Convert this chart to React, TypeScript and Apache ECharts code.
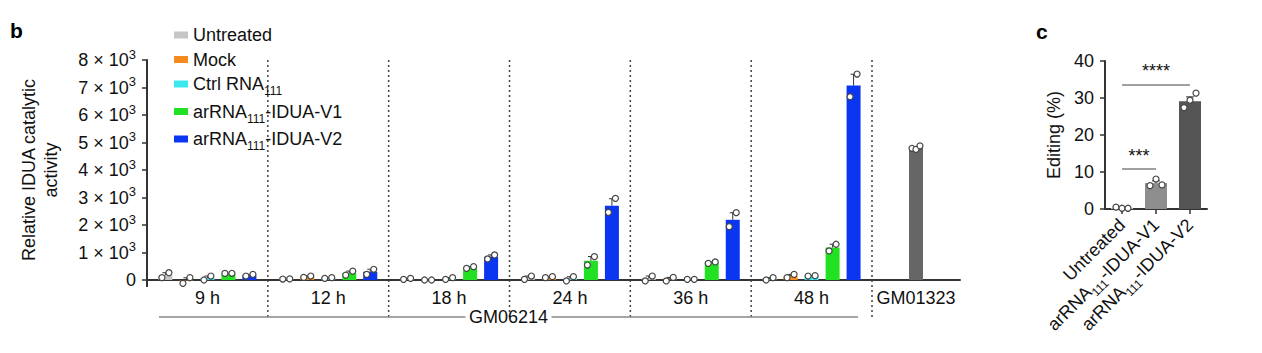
import React, { useEffect, useRef } from 'react';
import * as echarts from 'echarts';

// ---------- data (panel b) ----------
const TIMES = ['9 h', '12 h', '18 h', '24 h', '36 h', '48 h'];
const CONDITIONS = ['Untreated', 'Mock', 'Ctrl RNA111', 'arRNA111-IDUA-V1', 'arRNA111-IDUA-V2'];
const COLORS = ['#c6c6c6', '#f58a1f', '#3ce8f0', '#22e122', '#0a36f2'];
const Y_TICKS = [0, 1000, 2000, 3000, 4000, 5000, 6000, 7000, 8000];

// bar means: rows = conditions, columns = time points
const MEANS = [
  [175, 38, 42, 85, 55, 42],
  [-18, 120, 0, 102, 30, 145],
  [72, 72, 55, 42, 25, 150],
  [242, 252, 455, 700, 630, 1180],
  [175, 300, 840, 2700, 2190, 7070],
];
const SEMS = [
  [90, 3, 18, 60, 90, 42],
  [100, 25, 0, 18, 65, 60],
  [72, 12, 30, 78, 0, 6],
  [3, 72, 30, 152, 25, 122],
  [30, 92, 73, 255, 255, 412],
];
const REPLICATES = [
  [[84, 265], [35, 40], [25, 60], [25, 145], [-35, 145], [0, 85]],
  [[-120, 84], [95, 145], [0, 0], [85, 120], [-35, 95], [85, 205]],
  [[0, 145], [60, 85], [25, 85], [-35, 120], [25, 25], [145, 157]],
  [[240, 245], [180, 325], [424, 485], [545, 850], [605, 655], [1055, 1300]],
  [[145, 205], [205, 390], [764, 910], [2460, 2970], [1940, 2450], [6665, 7490]],
];
const GROUP_LABEL = 'GM06214';
const GM_LABEL = 'GM01323';
const GM_MEAN = 4800;
const GM_SEM = 40;
const GM_REPS = [4790, 4750, 4880];

// ---------- data (panel c) ----------
const EDIT_CATS = ['Untreated', 'arRNA111-IDUA-V1', 'arRNA111-IDUA-V2'];
const EDIT_MEANS = [0.3, 7.0, 29.1];
const EDIT_SEMS = [0.1, 0.6, 1.2];
const EDIT_REPS = [[0.5, 0.2, 0.2], [6.3, 8.1, 6.5], [27.4, 29.4, 31.3]];
const EDIT_COLORS = ['#c8c8c8', '#8e8e8e', '#555555'];
const SIG = [
  { from: 0, to: 1, y: 10.8, label: '***' },
  { from: 0, to: 2, y: 33.7, label: '****' },
];

// ---------- styles ----------
const FONT = '"Liberation Sans", Arial, Helvetica, sans-serif';
const TXT = '#111111';
const AX = '#333333';
const BAR_W = 14;
const BAR_STEP = 21;
const REP_JIT = 3.5;
const EDIT_JIT = [-6, 0, 6];
const GM_JIT = [-4, 0, 4];

const subFmt = (s: string) => s.replace('RNA111', 'RNA{sub|111}');
const subRich = {
  sub: { fontSize: 12, height: 6, lineHeight: 6, verticalAlign: 'bottom', fontFamily: FONT, color: TXT },
};

const dotEl = (cx: number, cy: number) => ({
  type: 'circle',
  shape: { cx, cy, r: 3 },
  style: { fill: '#ffffff', stroke: '#444', lineWidth: 1.2 },
});

const errEls = (x: number, yTop: number, yErr: number, cap: number) => [
  { type: 'line', shape: { x1: x, y1: yTop, x2: x, y2: yErr }, style: { stroke: '#333', lineWidth: 1 } },
  { type: 'line', shape: { x1: x - cap, y1: yErr, x2: x + cap, y2: yErr }, style: { stroke: '#333', lineWidth: 1 } },
];

function buildOption(): any {
  const series: any[] = [];

  // dotted group separators (panel b)
  series.push({
    type: 'custom',
    xAxisIndex: 0,
    yAxisIndex: 0,
    silent: true,
    data: TIMES.map((_, i) => [i, Y_TICKS[Y_TICKS.length - 1]]),
    renderItem: (_p: any, api: any) => {
      const top = api.coord([api.value(0), api.value(1)]);
      const base = api.coord([api.value(0), 0]);
      const half = api.size([1, 0])[0] / 2;
      const x = top[0] + half;
      return {
        type: 'line',
        shape: { x1: x, y1: top[1], x2: x, y2: base[1] + 37 },
        style: { stroke: '#444', lineWidth: 1.5, lineDash: [2, 3] },
      };
    },
  });

  // GM06214 bracket and y-axis stub below zero
  series.push({
    type: 'custom',
    xAxisIndex: 0,
    yAxisIndex: 0,
    silent: true,
    data: [[0, 0]],
    renderItem: (_p: any, api: any) => {
      const half = api.size([1, 0])[0] / 2;
      const l = api.coord([0, 0]);
      const r = api.coord([TIMES.length - 1, 0]);
      const lx = l[0] - half + 12;
      const rx = r[0] + half - 14;
      const y = l[1] + 37;
      const mid = (lx + rx) / 2;
      const gap = 43;
      return {
        type: 'group',
        children: [
          { type: 'line', shape: { x1: l[0] - half, y1: l[1], x2: l[0] - half, y2: l[1] + 7 }, style: { stroke: AX, lineWidth: 2 } },
          { type: 'line', shape: { x1: lx, y1: y, x2: mid - gap, y2: y }, style: { stroke: '#888', lineWidth: 1.5 } },
          { type: 'line', shape: { x1: mid + gap, y1: y, x2: rx, y2: y }, style: { stroke: '#888', lineWidth: 1.5 } },
          {
            type: 'text',
            x: mid,
            y: y,
            style: { text: GROUP_LABEL, fontSize: 18, fontFamily: FONT, fill: TXT, align: 'center', verticalAlign: 'middle' },
          },
        ],
      };
    },
  });

  // bars with error bars
  CONDITIONS.forEach((name, j) => {
    series.push({
      type: 'custom',
      name,
      xAxisIndex: 0,
      yAxisIndex: 0,
      itemStyle: { color: COLORS[j] },
      data: TIMES.map((_, i) => [i, MEANS[j][i], SEMS[j][i]]),
      renderItem: (_p: any, api: any) => {
        const i = api.value(0);
        const m = api.value(1);
        const e = api.value(2);
        const off = (j - 2) * BAR_STEP;
        const top = api.coord([i, m]);
        const base = api.coord([i, 0]);
        const err = api.coord([i, m + e]);
        const x = top[0] + off;
        return {
          type: 'group',
          children: [
            {
              type: 'rect',
              shape: { x: x - BAR_W / 2, y: Math.min(top[1], base[1]), width: BAR_W, height: Math.abs(base[1] - top[1]) },
              style: { fill: COLORS[j] },
            },
            ...errEls(x, top[1], err[1], 3),
          ],
        };
      },
    });
  });

  // replicate dots
  CONDITIONS.forEach((_name, j) => {
    const data: number[][] = [];
    TIMES.forEach((_, i) => {
      REPLICATES[j][i].forEach((v, r) => data.push([i, v, r]));
    });
    series.push({
      type: 'custom',
      xAxisIndex: 0,
      yAxisIndex: 0,
      silent: true,
      z: 5,
      data,
      renderItem: (_p: any, api: any) => {
        const p = api.coord([api.value(0), api.value(1)]);
        const x = p[0] + (j - 2) * BAR_STEP + (api.value(2) === 0 ? -REP_JIT : REP_JIT);
        return dotEl(x, p[1]);
      },
    });
  });

  // GM01323 bar
  series.push({
    type: 'bar',
    xAxisIndex: 1,
    yAxisIndex: 1,
    barWidth: BAR_W,
    itemStyle: { color: '#666666' },
    data: [GM_MEAN],
  });
  series.push({
    type: 'custom',
    xAxisIndex: 1,
    yAxisIndex: 1,
    silent: true,
    z: 5,
    data: GM_REPS.map((v, k) => [0, v, k]),
    renderItem: (_p: any, api: any) => {
      const p = api.coord([api.value(0), api.value(1)]);
      return dotEl(p[0] + GM_JIT[api.value(2)], p[1]);
    },
  });
  series.push({
    type: 'custom',
    xAxisIndex: 1,
    yAxisIndex: 1,
    silent: true,
    data: [[0, GM_MEAN, GM_SEM]],
    renderItem: (_p: any, api: any) => {
      const top = api.coord([0, api.value(1)]);
      const err = api.coord([0, api.value(1) + api.value(2)]);
      return { type: 'group', children: errEls(top[0], top[1], err[1], 3) };
    },
  });

  // panel c
  series.push({
    type: 'bar',
    xAxisIndex: 2,
    yAxisIndex: 2,
    barWidth: 22,
    data: EDIT_MEANS.map((v, k) => ({ value: v, itemStyle: { color: EDIT_COLORS[k] } })),
    markLine: {
      silent: true,
      symbol: ['none', 'none'],
      lineStyle: { color: '#808080', width: 1.5, type: 'solid' },
      label: { show: true, position: 'middle', formatter: '{b}', fontSize: 18, color: TXT, fontFamily: FONT, distance: 4 },
      data: SIG.map((s) => [
        { name: s.label, coord: [EDIT_CATS[s.from], s.y] },
        { coord: [EDIT_CATS[s.to], s.y] },
      ]),
    },
  });
  series.push({
    type: 'custom',
    xAxisIndex: 2,
    yAxisIndex: 2,
    silent: true,
    data: EDIT_MEANS.map((m, k) => [k, m, EDIT_SEMS[k]]),
    renderItem: (_p: any, api: any) => {
      const top = api.coord([api.value(0), api.value(1)]);
      const err = api.coord([api.value(0), api.value(1) + api.value(2)]);
      return { type: 'group', children: errEls(top[0], top[1], err[1], 4) };
    },
  });
  const editDots: number[][] = [];
  EDIT_REPS.forEach((reps, k) => reps.forEach((v, r) => editDots.push([k, v, r])));
  series.push({
    type: 'custom',
    xAxisIndex: 2,
    yAxisIndex: 2,
    silent: true,
    z: 5,
    data: editDots,
    renderItem: (_p: any, api: any) => {
      const p = api.coord([api.value(0), api.value(1)]);
      return dotEl(p[0] + EDIT_JIT[api.value(2)], p[1]);
    },
  });

  const axisLine = { show: true, lineStyle: { color: AX, width: 2 } };
  const labelBase = { fontSize: 18, color: TXT, fontFamily: FONT };

  return {
    animation: false,
    backgroundColor: '#ffffff',
    textStyle: { fontFamily: FONT },
    graphic: [
      { type: 'text', left: 10, top: 20, style: { text: 'b', fontSize: 21, fontWeight: 'bold', fontFamily: FONT, fill: '#000' } },
      { type: 'text', left: 1036, top: 21, style: { text: 'c', fontSize: 21, fontWeight: 'bold', fontFamily: FONT, fill: '#000' } },
    ],
    legend: {
      orient: 'vertical',
      left: 169,
      top: 20,
      icon: 'rect',
      itemWidth: 14,
      itemHeight: 7,
      itemGap: 4.5,
      selectedMode: false,
      data: CONDITIONS.map((n, j) => ({ name: n, itemStyle: { color: COLORS[j] } })),
      formatter: subFmt,
      textStyle: { ...labelBase, lineHeight: 20, rich: subRich },
    },
    grid: [
      { left: 147, top: 60, width: 725, height: 220 },
      { left: 872, top: 60, width: 88, height: 220 },
      { left: 1105, top: 61, width: 102, height: 148 },
    ],
    xAxis: [
      {
        type: 'category',
        gridIndex: 0,
        data: TIMES,
        axisLine,
        axisTick: { show: false },
        splitLine: { show: false },
        axisLabel: { ...labelBase, margin: 9 },
      },
      {
        type: 'category',
        gridIndex: 1,
        data: [GM_LABEL],
        axisLine,
        axisTick: { show: false },
        splitLine: { show: false },
        axisLabel: { ...labelBase, margin: 9 },
      },
      {
        type: 'category',
        gridIndex: 2,
        data: EDIT_CATS,
        axisLine,
        axisTick: { show: true, alignWithLabel: true, length: 5, lineStyle: { color: AX, width: 1.5 } },
        splitLine: { show: false },
        axisLabel: { ...labelBase, rotate: 45, interval: 0, margin: 13, lineHeight: 20, formatter: subFmt, rich: subRich },
      },
    ],
    yAxis: [
      {
        type: 'value',
        gridIndex: 0,
        min: Y_TICKS[0],
        max: Y_TICKS[Y_TICKS.length - 1],
        interval: Y_TICKS[1] - Y_TICKS[0],
        axisLine,
        axisTick: { show: true, length: 5, lineStyle: { color: AX, width: 1.5 } },
        splitLine: { show: false },
        axisLabel: {
          fontSize: 18,
          color: TXT,
          fontFamily: FONT,
          margin: 11,
          lineHeight: 20,
          formatter: (v: number) => (v === 0 ? '0' : `${v / 1000} × 10{sup|3}`),
          rich: { sup: { fontSize: 13, height: 8, lineHeight: 8, verticalAlign: 'top', fontFamily: FONT, color: TXT } },
        },
        name: 'Relative IDUA catalytic\nactivity',
        nameLocation: 'middle',
        nameGap: 85,
        nameTextStyle: { ...labelBase, lineHeight: 22 },
      },
      { type: 'value', gridIndex: 1, min: Y_TICKS[0], max: Y_TICKS[Y_TICKS.length - 1], show: false },
      {
        type: 'value',
        gridIndex: 2,
        min: 0,
        max: 40,
        interval: 10,
        axisLine,
        axisTick: { show: true, length: 5, lineStyle: { color: AX, width: 1.5 } },
        splitLine: { show: false },
        axisLabel: { ...labelBase, margin: 11 },
        name: 'Editing (%)',
        nameLocation: 'middle',
        nameGap: 42,
        nameTextStyle: { ...labelBase },
      },
    ],
    series,
  };
}

export default function App() {
  const ref = useRef<HTMLDivElement>(null);
  useEffect(() => {
    const chart = echarts.init(ref.current as HTMLDivElement, null, { renderer: 'svg' });
    chart.setOption(buildOption());
    return () => chart.dispose();
  }, []);
  return (
    <div
      ref={ref}
      style={{ position: 'absolute', left: 0, top: 0, width: 1262, height: 353, background: '#fff' }}
    />
  );
}
